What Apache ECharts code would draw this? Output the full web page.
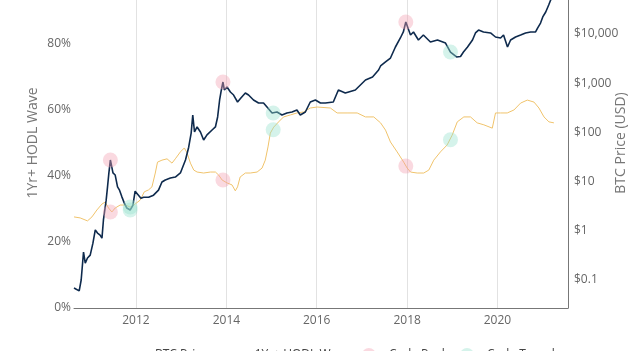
<!DOCTYPE html>
<html><head><meta charset="utf-8">
<script src="https://cdn.jsdelivr.net/npm/echarts@6/dist/echarts.min.js"></script>
<style>html,body{margin:0;padding:0;background:#fff}#c{width:640px;height:351px}</style>
</head><body><div id="c"></div>
<script>
const btcDates = ['2010-08-18','2010-09-29','2010-10-15','2010-11-03','2010-11-17','2010-12-05','2010-12-27','2011-01-18','2011-02-06','2011-02-24','2011-03-17','2011-04-01','2011-04-13','2011-05-05','2011-05-16','2011-05-27','2011-06-08','2011-06-29','2011-07-17','2011-08-05','2011-08-21','2011-09-09','2011-09-28','2011-10-19','2011-11-15','2011-12-07','2011-12-25','2012-01-08','2012-01-21','2012-02-10','2012-03-03','2012-04-12','2012-05-22','2012-07-01','2012-07-29','2012-08-25','2012-10-05','2012-11-14','2012-12-25','2013-02-04','2013-03-02','2013-03-22','2013-04-04','2013-04-18','2013-05-09','2013-06-05','2013-07-01','2013-07-28','2013-09-07','2013-10-04','2013-10-22','2013-11-07','2013-11-21','2013-12-04','2013-12-15','2014-01-06','2014-02-02','2014-02-28','2014-04-01','2014-04-28','2014-06-03','2014-06-29','2014-08-08','2014-09-18','2014-10-28','2014-11-25','2015-01-05','2015-02-14','2015-03-26','2015-05-05','2015-06-15','2015-07-25','2015-08-21','2015-10-01','2015-11-10','2015-12-21','2016-01-31','2016-03-11','2016-05-14','2016-06-24','2016-08-19','2016-11-08','2017-01-29','2017-03-27','2017-05-15','2017-05-31','2017-07-10','2017-08-19','2017-09-28','2017-11-07','2017-12-01','2017-12-21','2018-01-28','2018-02-21','2018-04-02','2018-05-12','2018-07-08','2018-09-03','2018-11-07','2018-11-23','2018-12-17','2019-02-04','2019-03-08','2019-04-01','2019-05-04','2019-06-13','2019-07-07','2019-08-01','2019-09-10','2019-11-06','2019-12-16','2020-01-26','2020-02-19','2020-03-22','2020-04-16','2020-05-26','2020-07-06','2020-08-15','2020-09-25','2020-11-04','2020-11-20','2020-12-14','2021-01-01','2021-01-25','2021-02-18','2021-03-06','2021-03-30','2021-04-15'];
const btcPrice = [0.069,0.060,0.10,0.37,0.22,0.28,0.32,0.56,1.04,0.90,0.82,0.71,1.66,4.2,7.8,15,27.5,15,13.6,7.8,6.7,4.9,3.7,2.9,2.65,3.3,6.4,6.2,5.3,4.6,4.8,4.8,5.3,6.7,9.8,10.8,11.8,12.4,15,27.5,50,97,226,102,129,102,70,89,112,129,206,456,728,1057,728,837,662,575,415,500,632,575,456,396,396,328,248,260,226,248,260,285,226,260,415,456,396,396,415,728,632,728,1161,1336,1853,2239,2700,3250,5445,8300,11000,17500,9550,11000,7550,9550,6880,7550,6560,5980,4300,3410,3500,4300,5445,7550,10500,12000,11000,10500,8690,8300,9550,5445,7550,8690,9550,10500,11000,11000,13200,16700,22200,28000,38800,49100,59200,54000];

const hodlDates = ['2010-08-18','2010-10-07','2010-12-05','2011-01-10','2011-02-19','2011-04-01','2011-04-27','2011-05-24','2011-06-20','2011-07-17','2011-08-26','2011-10-06','2011-11-15','2011-12-25','2012-02-04','2012-03-08','2012-04-12','2012-05-09','2012-06-05','2012-06-23','2012-07-29','2012-09-08','2012-10-18','2012-11-14','2012-12-25','2013-01-26','2013-02-17','2013-03-16','2013-04-12','2013-05-09','2013-07-01','2013-08-24','2013-10-04','2013-10-30','2013-11-27','2014-01-06','2014-02-15','2014-03-14','2014-04-01','2014-04-22','2014-06-03','2014-07-13','2014-09-06','2014-10-16','2014-11-11','2014-12-03','2014-12-22','2015-01-18','2015-02-27','2015-04-08','2015-06-02','2015-07-25','2015-09-17','2015-11-10','2016-01-04','2016-04-20','2016-06-14','2016-09-02','2016-11-23','2017-01-29','2017-04-06','2017-05-31','2017-07-10','2017-08-19','2017-10-12','2017-12-04','2018-01-01','2018-01-28','2018-03-23','2018-05-15','2018-06-25','2018-08-04','2018-09-27','2018-11-20','2018-12-31','2019-02-10','2019-04-04','2019-05-28','2019-07-21','2019-09-13','2019-11-20','2019-12-16','2020-01-26','2020-03-20','2020-05-13','2020-07-06','2020-08-29','2020-10-22','2020-12-01','2021-01-11','2021-02-20','2021-04-01'];
const hodlPct = [27.6,27.3,26.4,27.6,29.7,31.5,32.1,30.3,29.1,30.3,31.2,31.2,30.6,31.5,32.7,35.2,35.8,36.7,40.9,44.2,44.8,45.2,43.9,45.2,47.3,48.5,47.0,43.9,41.8,41.2,40.9,41.2,41.2,40.3,38.8,37.9,37.3,35.5,36.7,39.7,40.9,40.9,41.2,42.4,44.8,48.8,53.0,54.8,56.4,57.9,58.5,59.1,59.4,60.6,60.9,60.6,59.1,59.1,59.1,57.9,57.9,56.1,53.9,50.3,47.3,44.2,42.4,41.2,40.9,40.9,41.8,44.8,47.3,49.4,52.4,56.4,57.9,57.9,56.1,55.5,54.5,59.1,59.1,59.1,60.0,62.1,63.0,62.4,60.6,57.9,56.4,56.1];

const peakDates = ['2011-06-08','2013-12-04','2017-12-21'];
const peakPrice = [27.5,1057,17500];
const peakHodl = [29.1,38.8,43.0];
const troughDates = ['2011-11-15','2015-01-14','2018-12-17'];
const troughPrice = [2.65,248,4300];
const troughHodl = [30.6,54.0,51.0];

const yearTicks = ['2012-01-01','2014-01-01','2016-01-01','2018-01-01','2020-01-01'];
const priceTicks = [0.1,1,10,100,1000,10000];
const pctTicks = [0,20,40,60,80];

const ts = d => Date.parse(d + 'T00:00:00Z');
const zip = (a,b)=>a.map((d,i)=>[ts(d),b[i]]);
const FONT = '"Open Sans", sans-serif';
const PEAK = 'rgba(242,160,178,0.5)';
const TROUGH = 'rgba(150,225,205,0.5)';

const chart = echarts.init(document.getElementById('c'));
chart.setOption({
  animation:false,
  textStyle:{fontFamily:FONT},
  grid:{left:74,right:72,top:0,bottom:43,containLabel:false},
  legend:{
    top:343,left:115,itemGap:12,itemWidth:30,itemHeight:14,
    textStyle:{fontFamily:FONT,fontSize:12,color:'#444'},
    data:[
      {name:'BTC Price',icon:'path://M0,6L30,6L30,8L0,8Z'},
      {name:'1Yr+ HODL Wave',icon:'path://M0,6L30,6L30,8L0,8Z'},
      {name:'Cycle Peak',icon:'circle'},
      {name:'Cycle Trough',icon:'circle'}
    ]
  },
  xAxis:{
    type:'value',min:ts('2010-08-18'),max:ts('2021-07-24'),
    axisLine:{show:true,lineStyle:{color:'#777',width:1}},
    axisTick:{show:false,customValues:yearTicks.map(ts)},
    axisLabel:{customValues:yearTicks.map(ts),color:'#666',fontSize:12,fontFamily:FONT,margin:7,
      formatter:v=>String(new Date(v).getUTCFullYear())},
    splitLine:{show:true,lineStyle:{color:'#e2e2e2',width:1}}
  },
  yAxis:[
    {type:'value',min:0,max:93.33,position:'left',
     name:'1Yr+ HODL Wave',nameLocation:'middle',nameRotate:90,nameGap:34,nameMoveOverlap:false,
     nameTextStyle:{color:'#777',fontSize:14,fontFamily:FONT,padding:[0,0,0,22]},
     axisLine:{show:false},axisTick:{show:false,customValues:pctTicks},splitLine:{show:false},
     axisLabel:{color:'#666',fontSize:12,fontFamily:FONT,margin:3,formatter:'{value}%',customValues:pctTicks}},
    {type:'log',logBase:10,min:0.02698,max:49100,position:'right',
     name:'BTC Price (USD)',nameLocation:'middle',nameRotate:90,nameGap:46,nameMoveOverlap:false,
     nameTextStyle:{color:'#777',fontSize:14,fontFamily:FONT,padding:[0,0,0,22]},
     axisLine:{show:true,lineStyle:{color:'#777',width:1}},axisTick:{show:false,customValues:priceTicks},splitLine:{show:false},
     axisLabel:{color:'#666',fontSize:12,fontFamily:FONT,margin:6,customValues:priceTicks,
       formatter:v=>'$'+(v<1?String(Math.round(v*10)/10):Math.round(v).toLocaleString('en-US'))}}
  ],
  series:[
    {name:'1Yr+ HODL Wave',type:'line',yAxisIndex:0,data:zip(hodlDates,hodlPct),showSymbol:false,
     lineStyle:{color:'#f0c36b',width:1},itemStyle:{color:'#f0c36b'},z:2},
    {name:'BTC Price',type:'line',yAxisIndex:1,data:zip(btcDates,btcPrice),showSymbol:false,
     lineStyle:{color:'#0e2a4d',width:1.6},itemStyle:{color:'#0e2a4d'},z:3},
    {name:'Cycle Peak',type:'scatter',yAxisIndex:1,data:zip(peakDates,peakPrice),symbolSize:15,itemStyle:{color:PEAK},z:4},
    {name:'Cycle Peak',type:'scatter',yAxisIndex:0,data:zip(peakDates,peakHodl),symbolSize:15,itemStyle:{color:PEAK},z:4},
    {name:'Cycle Trough',type:'scatter',yAxisIndex:1,data:zip(troughDates,troughPrice),symbolSize:15,itemStyle:{color:TROUGH},z:4},
    {name:'Cycle Trough',type:'scatter',yAxisIndex:0,data:zip(troughDates,troughHodl),symbolSize:15,itemStyle:{color:TROUGH},z:4}
  ]
});
</script></body></html>
